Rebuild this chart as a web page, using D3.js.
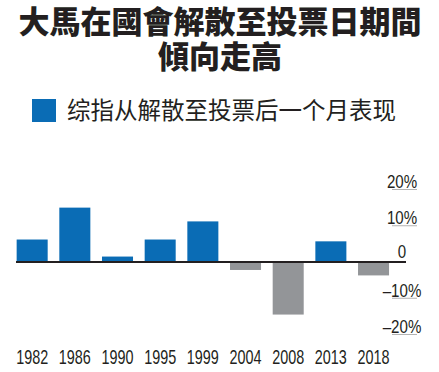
<!DOCTYPE html>
<html>
<head>
<meta charset="utf-8">
<script src="https://cdn.jsdelivr.net/npm/d3@7"></script>
<style>
  html, body { margin: 0; padding: 0; background: #fff; }
  svg { display: block; }
</style>
</head>
<body>
<svg id="chart" width="439" height="372"></svg>
<script>
const titleLines = ["大馬在國會解散至投票日期間", "傾向走高"];
const legendLabel = "综指从解散至投票后一个月表现";
const years = ["1982", "1986", "1990", "1995", "1999", "2004", "2008", "2013", "2018"];
const returns = [6.2, 15.0, 1.5, 6.2, 11.2, -2.2, -14.5, 5.7, -3.7];
const tickValues = [20, 10, 0, -10, -20];
const tickLabels = ["20%", "10%", "0", "–10%", "–20%"];

const svg = d3.select("#chart");
const blue = "#0a6cb5", gray = "#939598";
const data = years.map((y, i) => ({ year: y, value: returns[i] }));

// Title (one text element, two lines)
const title = svg.append("text")
  .attr("text-anchor", "middle")
  .style("font-family", "'Noto Sans CJK TC', 'Noto Sans CJK SC', sans-serif")
  .style("font-weight", 900).style("font-size", "31px")
  .style("fill", "#231f20");
title.selectAll("tspan").data(titleLines).enter().append("tspan")
  .attr("x", 220).attr("y", (d, i) => 33 + i * 34.5)
  .text(d => d);

// Legend
svg.append("rect").attr("x", 32).attr("y", 99).attr("width", 24).attr("height", 23).attr("fill", blue);
svg.append("text").attr("x", 67).attr("y", 119)
  .style("font-family", "'Noto Sans CJK SC', sans-serif")
  .style("font-size", "23.5px").style("fill", "#231f20")
  .text(legendLabel);

// Scales
const x = d3.scaleBand().domain(years).range([5, 400.7]).padding(0.273);
const y = d3.scaleLinear().domain([-20, 20]).range([334.5, 189.5]);

// Bars
svg.selectAll("rect.bar").data(data).enter().append("rect")
  .attr("class", "bar")
  .attr("x", d => x(d.year))
  .attr("width", x.bandwidth())
  .attr("y", d => y(Math.max(0, d.value)))
  .attr("height", d => Math.abs(y(d.value) - y(0)))
  .attr("fill", d => d.value >= 0 ? blue : gray);

// Zero line
svg.append("line").attr("x1", 16).attr("x2", 406).attr("y1", y(0)).attr("y2", y(0))
  .attr("stroke", "#231f20").attr("stroke-width", 2);

// Right axis labels with gray underlines
const tickG = svg.selectAll("g.tick").data(tickValues).enter().append("g").attr("class", "tick");
tickG.filter(d => d !== 0).append("line")
  .attr("x1", 392).attr("x2", 417)
  .attr("y1", d => y(d)).attr("y2", d => y(d))
  .attr("stroke", "#b3b3b3").attr("stroke-width", 1);
tickG.append("text")
  .attr("transform", d => `translate(402,${y(d) - (d === 0 ? 4.5 : 1.5)}) scale(0.84,1)`)
  .attr("text-anchor", "middle")
  .style("font-family", "'Liberation Sans', Arial, sans-serif")
  .style("font-size", "18px").style("fill", "#231f20")
  .text((d, i) => tickLabels[i]);

// Year labels
svg.selectAll("text.year").data(years).enter().append("text")
  .attr("class", "year")
  .attr("transform", d => `translate(${x(d) + x.bandwidth() / 2},363.5) scale(0.72,1)`)
  .attr("text-anchor", "middle")
  .style("font-family", "'Liberation Sans', Arial, sans-serif")
  .style("font-size", "20px").style("fill", "#231f20")
  .text(d => d);
</script>
</body>
</html>
